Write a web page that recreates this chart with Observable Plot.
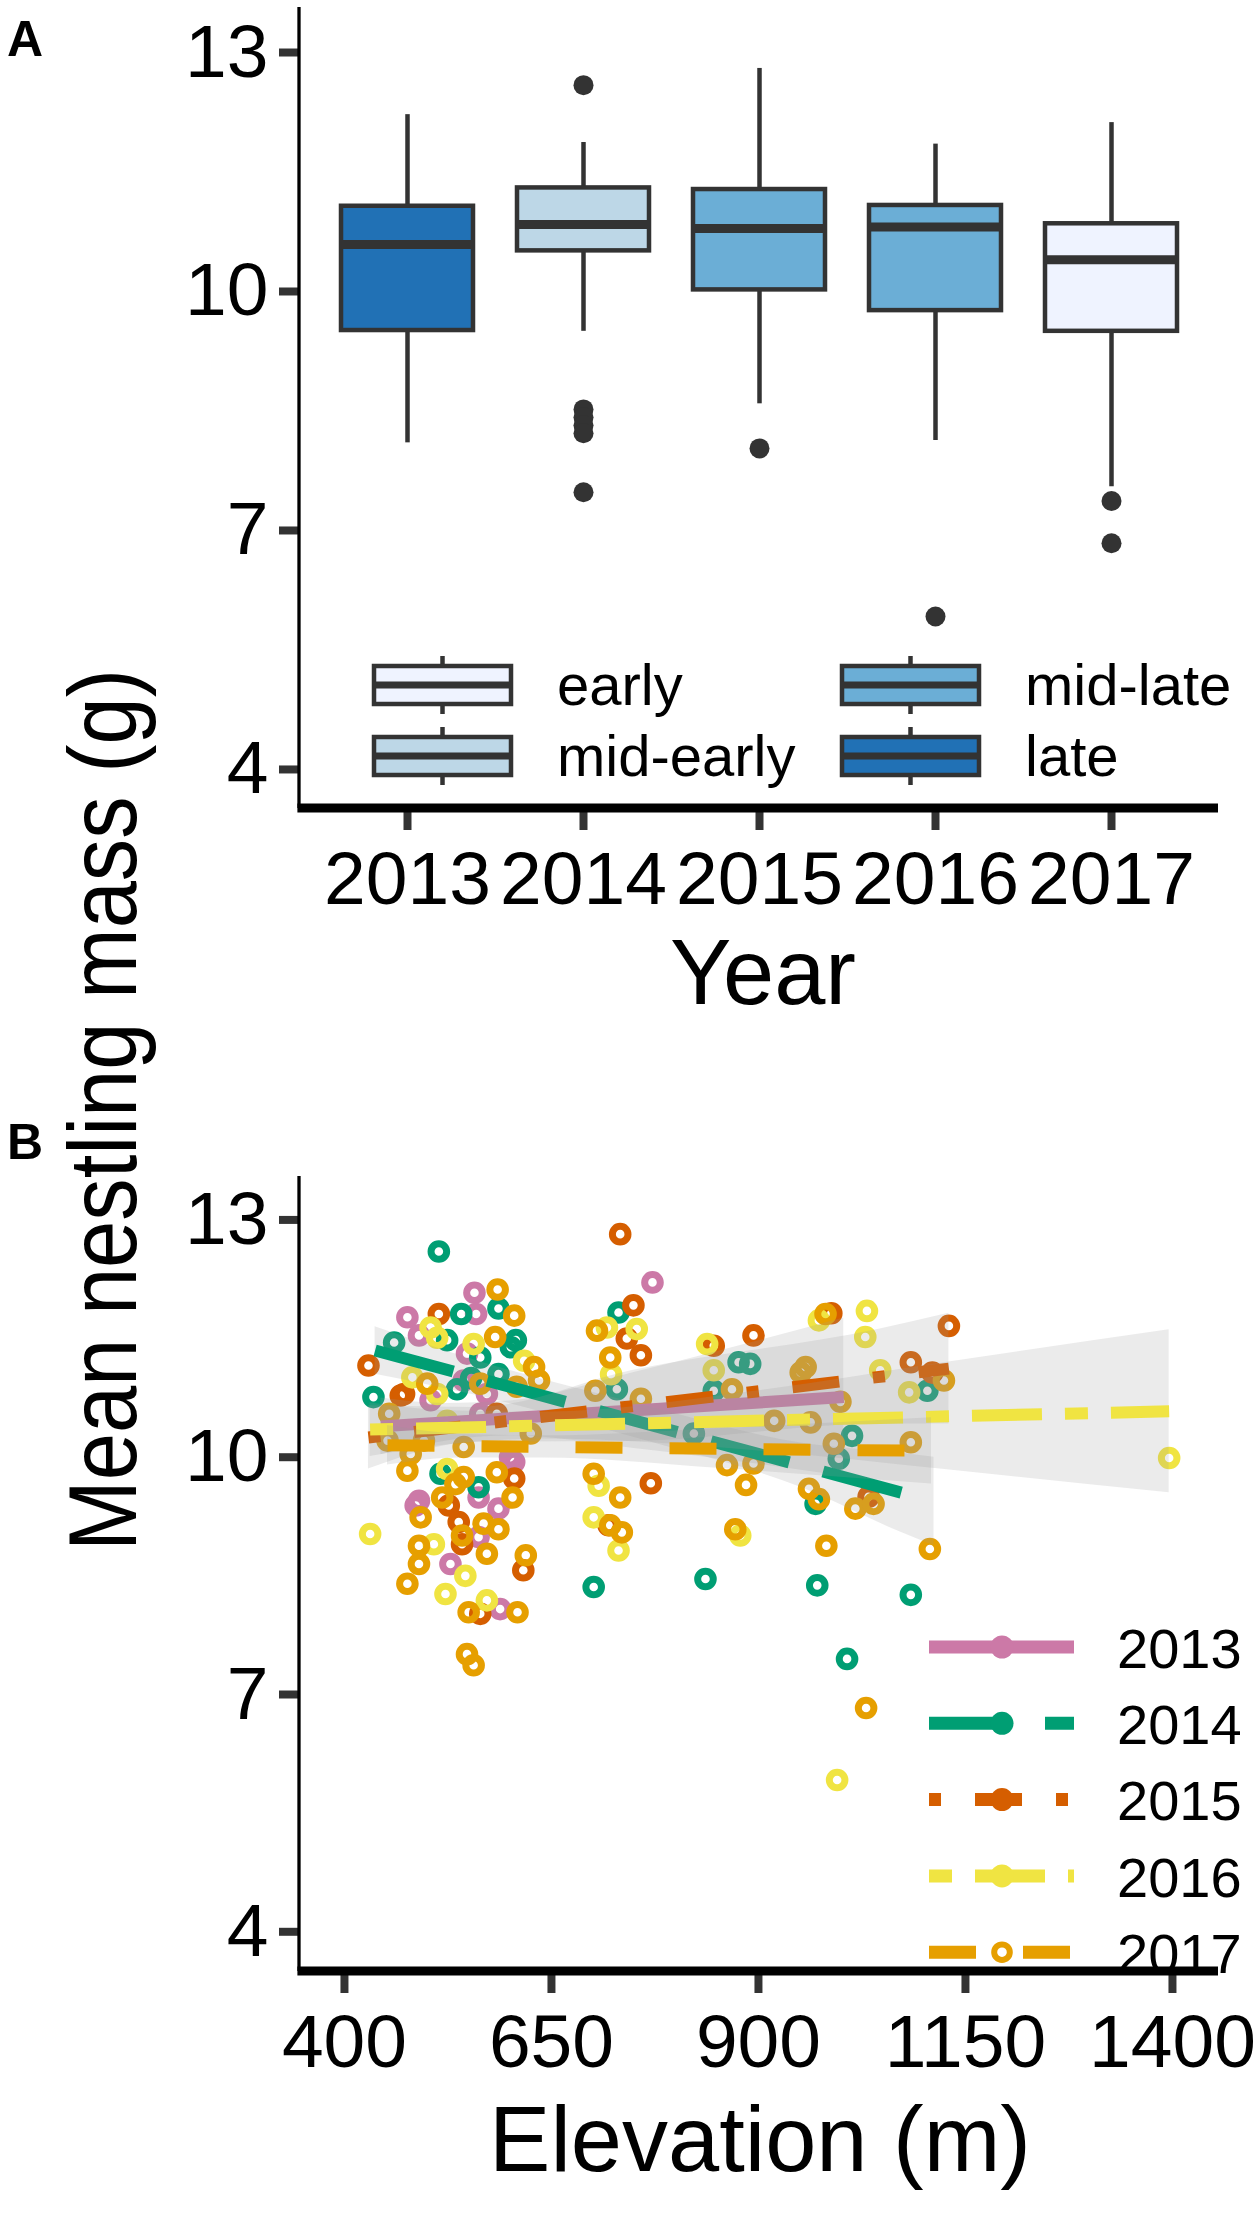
<!DOCTYPE html>
<html>
<head>
<meta charset="utf-8">
<script src="https://cdn.jsdelivr.net/npm/d3@7"></script>
<script src="https://cdn.jsdelivr.net/npm/@observablehq/plot@0.6"></script>
<style>
  html, body { margin: 0; padding: 0; background: #fff; overflow: hidden; }
  #fig { position: relative; width: 1259px; height: 2224px; }
  #fig > svg { display: block; }
</style>
</head>
<body>
<div id="fig"></div>
<script>
// ---------------- Panel A data (box plots by year) ----------------
const boxYears = ["2013", "2014", "2015", "2016", "2017"];
const boxPeriods = ["late", "mid-early", "mid-late", "mid-late", "early"];
const boxLowerWhisker = [8.10, 9.50, 8.59, 8.13, 7.55];
const boxQ1 = [9.51, 10.51, 10.02, 9.76, 9.50];
const boxMedian = [10.59, 10.84, 10.79, 10.81, 10.40];
const boxQ3 = [11.07, 11.30, 11.28, 11.08, 10.85];
const boxUpperWhisker = [12.22, 11.87, 12.80, 11.85, 12.12];
const outlierYears = ["2014", "2014", "2014", "2014", "2014", "2014", "2015", "2016", "2017", "2017"];
const outlierMasses = [12.59, 8.52, 8.42, 8.32, 8.22, 7.48, 8.03, 5.92, 7.37, 6.84];
const periodNames = ["early", "mid-early", "mid-late", "late"];
const massTicks = [4, 7, 10, 13];

// ---------------- Panel B data (mass vs elevation) ----------------
const seriesYears = ["2013", "2014", "2015", "2016", "2017"];
const elevTicks = [400, 650, 900, 1150, 1400];

const elev2013 = [557, 476, 559, 490, 548, 772, 605, 562, 490, 486, 586, 562, 528, 588, 504, 544, 572, 564, 600];
const mass2013 = [12.08, 11.77, 11.81, 11.54, 11.31, 12.21, 9.94, 9.49, 9.45, 9.39, 9.35, 8.99, 8.65, 8.08, 10.72, 10.97, 10.80, 10.55, 10.00];

const elev2014 = [514, 541, 586, 524, 607, 601, 564, 460, 435, 536, 586, 516, 562, 731, 729, 876, 890, 846, 822, 1013, 997, 1104, 836, 971, 701, 969, 1007, 1084, 553];
const mass2014 = [12.60, 11.81, 11.88, 11.48, 11.48, 11.39, 11.26, 11.45, 10.76, 10.86, 11.05, 9.79, 9.62, 11.83, 10.86, 11.20, 11.18, 10.84, 10.30, 10.27, 9.98, 10.84, 8.46, 8.38, 8.36, 9.41, 7.45, 8.26, 11.00];

const elev2015 = [733, 514, 429, 468, 741, 749, 758, 846, 894, 605, 526, 538, 542, 616, 564, 719, 770, 1033, 1130, 1084, 1110, 988, 472, 584];
const mass2015 = [12.82, 11.81, 11.16, 10.78, 11.50, 11.92, 11.29, 11.41, 11.54, 9.73, 9.39, 9.18, 8.90, 8.57, 8.02, 9.14, 9.67, 9.50, 11.66, 11.20, 11.07, 11.82, 10.80, 10.55];

const elev2016 = [504, 556, 617, 717, 722, 753, 838, 846, 973, 1031, 1029, 1047, 1082, 524, 431, 508, 546, 522, 572, 707, 701, 731, 878, 1396, 995, 482, 512, 524, 512];
const mass2016 = [11.64, 11.43, 11.22, 11.64, 11.05, 11.62, 11.43, 11.10, 11.73, 11.85, 11.52, 11.10, 10.82, 9.85, 9.03, 8.90, 8.50, 8.27, 8.19, 9.64, 9.24, 8.82, 9.01, 9.99, 5.92, 11.01, 10.80, 10.46, 11.51];

const elev2017 = [585, 605, 582, 454, 635, 476, 705, 721, 703, 701, 544, 584, 603, 492, 518, 534, 568, 586, 542, 490, 572, 490, 619, 476, 550, 609, 548, 556, 733, 721, 735, 868, 981, 957, 951, 758, 999, 919, 963, 991, 862, 894, 885, 872, 982, 961, 973, 1017, 1039, 1030, 1124, 1084, 1107, 500, 564, 608, 480, 625, 544, 629, 452, 496];
const mass2017 = [12.12, 11.79, 11.52, 10.55, 10.97, 9.83, 11.60, 11.26, 10.84, 9.79, 9.75, 9.81, 9.49, 9.24, 9.49, 9.66, 9.16, 9.09, 9.01, 8.88, 8.78, 8.65, 8.76, 8.40, 8.04, 8.04, 7.51, 7.37, 9.49, 9.14, 9.05, 10.86, 11.81, 11.14, 11.07, 10.74, 10.70, 10.46, 10.44, 10.17, 9.90, 9.92, 9.65, 9.09, 8.88, 9.60, 9.47, 9.35, 9.41, 6.83, 10.97, 10.19, 8.84, 10.93, 10.93, 10.89, 10.04, 10.30, 10.13, 11.14, 10.21, 10.21];

// fitted linear trends (end points)
const fitStartElev = [444, 437, 429, 431, 452];
const fitEndElev = [1003, 1112, 1130, 1396, 1109];
const fitStartMass = [10.39, 11.35, 10.25, 10.35, 10.15];
const fitEndMass = [10.76, 9.44, 11.12, 10.58, 10.08];

// confidence bands
const band2013Elev = [444, 520, 600, 750, 1003];
const band2013Low = [10.03, 10.20, 10.27, 10.11, 9.76];
const band2013High = [10.75, 10.68, 10.71, 11.07, 11.76];
const band2014Elev = [437, 560, 760, 951, 1072, 1112];
const band2014Low = [11.05, 10.78, 10.22, 9.62, 9.05, 8.88];
const band2014High = [11.65, 11.22, 10.66, 10.18, 10.05, 10.00];
const band2015Elev = [429, 560, 749, 1047, 1130];
const band2015Low = [9.85, 10.19, 10.20, 10.42, 10.42];
const band2015High = [10.65, 10.63, 11.10, 11.62, 11.82];
const band2016Elev = [431, 520, 640, 900, 1128, 1396];
const band2016Low = [10.01, 10.15, 10.23, 10.08, 9.84, 9.55];
const band2016High = [10.69, 10.59, 10.57, 10.84, 11.20, 11.61];
const band2017Elev = [452, 540, 640, 850, 1109];
const band2017Low = [9.90, 9.99, 9.99, 9.86, 9.66];
const band2017High = [10.40, 10.29, 10.27, 10.36, 10.50];

// ---------------- build tables ----------------
const boxRows = boxYears.map((year, i) => ({
  year, period: boxPeriods[i], wlo: boxLowerWhisker[i], q1: boxQ1[i],
  med: boxMedian[i], q3: boxQ3[i], whi: boxUpperWhisker[i]
}));
const outlierRows = outlierYears.map((year, i) => ({year, mass: outlierMasses[i]}));

const pointSets = {
  "2013": [elev2013, mass2013], "2014": [elev2014, mass2014], "2015": [elev2015, mass2015],
  "2016": [elev2016, mass2016], "2017": [elev2017, mass2017]
};
const pointRows = seriesYears.flatMap(year => {
  const [e, m] = pointSets[year];
  const n = Math.min(e.length, m.length);
  return d3.range(n).map(i => ({year, elev: e[i], mass: m[i]}));
});
const fitRows = seriesYears.map((year, i) => ({
  year, e0: fitStartElev[i], e1: fitEndElev[i], m0: fitStartMass[i], m1: fitEndMass[i]
}));
const bandSets = {
  "2013": [band2013Elev, band2013Low, band2013High],
  "2014": [band2014Elev, band2014Low, band2014High],
  "2015": [band2015Elev, band2015Low, band2015High],
  "2016": [band2016Elev, band2016Low, band2016High],
  "2017": [band2017Elev, band2017Low, band2017High]
};
const bandRows = seriesYears.flatMap(year => {
  const [e, lo, hi] = bandSets[year];
  return e.map((v, i) => ({year, elev: v, lo: lo[i], hi: hi[i]}));
});

// ---------------- styles ----------------
const FONT = "'Liberation Sans', Arial, Helvetica, sans-serif";
const periodColors = ["#EFF3FF", "#BDD7E7", "#6BAED6", "#2171B5"];
const yearColors = ["#CC79A7", "#009E73", "#D55E00", "#F0E442", "#E69F00"];
const yearDash = {"2013": undefined, "2014": "81,35", "2015": "12,34,47,34", "2016": "23,23,70,23", "2017": "47,47"};
const W = 1259, HA = 1085, HB = 1139, ML = 299, MR = 41;
const A_TOP = 7, A_BOT = 808;
const B_TOP = 91, B_BOT = 886;
const INK = "#333333";
const TICK_FONT = 75;

function axisLines(top, bottom) {
  return () => {
    const g = d3.create("svg:g");
    g.append("line").attr("x1", ML).attr("x2", ML).attr("y1", top).attr("y2", bottom)
      .attr("stroke", "black").attr("stroke-width", 3.3);
    g.append("line").attr("x1", ML - 1.6).attr("x2", W - MR).attr("y1", bottom).attr("y2", bottom)
      .attr("stroke", "black").attr("stroke-width", 9);
    return g.node();
  };
}

function legendA() {
  const g = d3.create("svg:g").attr("font-family", FONT).attr("text-anchor", "start");
  const colX = [374, 842], rowY = [685, 756], labelX = [557, 1025];
  const w = 137, h = 38;
  periodNames.forEach((p, i) => {
    const c = Math.floor(i / 2), r = i % 2;
    const x0 = colX[c], cy = rowY[r];
    g.append("line").attr("x1", x0 + w / 2).attr("x2", x0 + w / 2).attr("y1", cy - 29).attr("y2", cy + 29)
      .attr("stroke", INK).attr("stroke-width", 4.5);
    g.append("rect").attr("x", x0).attr("y", cy - h / 2).attr("width", w).attr("height", h)
      .attr("fill", periodColors[i]).attr("stroke", INK).attr("stroke-width", 4.5);
    g.append("line").attr("x1", x0).attr("x2", x0 + w).attr("y1", cy).attr("y2", cy)
      .attr("stroke", INK).attr("stroke-width", 7);
    g.append("text").attr("x", labelX[c]).attr("y", cy).attr("dy", "0.345em")
      .attr("text-anchor", "start").attr("font-size", 58).attr("fill", "black").text(p);
  });
  return g.node();
}

function legendB() {
  const g = d3.create("svg:g").attr("font-family", FONT).attr("text-anchor", "start");
  const x0 = 929, x1 = 1074, xm = 1002;
  seriesYears.forEach((year, i) => {
    const cy = 562 + 76.3 * i;
    const ln = g.append("line").attr("x1", x0).attr("x2", x1).attr("y1", cy).attr("y2", cy)
      .attr("stroke", yearColors[i]).attr("stroke-width", 13).attr("stroke-linecap", "butt");
    if (yearDash[year]) ln.attr("stroke-dasharray", yearDash[year]);
    if (year === "2017") {
      g.append("circle").attr("cx", xm).attr("cy", cy).attr("r", 7.8)
        .attr("fill", "white").attr("stroke", yearColors[i]).attr("stroke-width", 6);
    } else {
      g.append("circle").attr("cx", xm).attr("cy", cy).attr("r", 11.5).attr("fill", yearColors[i]);
    }
    g.append("text").attr("x", 1117).attr("y", cy).attr("dy", "0.37em")
      .attr("text-anchor", "start").attr("font-size", 56).attr("fill", "black").text(year);
  });
  return g.node();
}

const baseStyle = {fontFamily: FONT, background: "white", overflow: "visible", color: "black"};
const plainFormat = d => String(d);

// ---------------- Panel A ----------------
const plotA = Plot.plot({
  width: W, height: HA,
  marginLeft: ML, marginRight: MR, marginTop: A_TOP, marginBottom: HA - A_BOT,
  style: baseStyle,
  x: {type: "band", domain: boxYears, paddingInner: 0.25, paddingOuter: 0.225, axis: null},
  y: {domain: [3.51, 13.565], axis: null},
  color: {domain: periodNames, range: periodColors},
  marks: [
    Plot.ruleX(boxRows, {x: "year", y1: "wlo", y2: "q1", stroke: INK, strokeWidth: 4.5}),
    Plot.ruleX(boxRows, {x: "year", y1: "q3", y2: "whi", stroke: INK, strokeWidth: 4.5}),
    Plot.barY(boxRows, {x: "year", y1: "q1", y2: "q3", fill: "period", stroke: INK, strokeWidth: 4.5}),
    Plot.tickY(boxRows, {x: "year", y: "med", stroke: INK, strokeWidth: 9}),
    Plot.dot(outlierRows, {x: "year", y: "mass", r: 10, fill: INK, stroke: null}),
    Plot.axisY({ticks: massTicks, tickFormat: plainFormat, tickSize: 20, tickPadding: 11, fontSize: TICK_FONT, stroke: INK, strokeWidth: 8, fill: "black", label: null}),
    Plot.axisX({tickSize: 22, tickPadding: 20, fontSize: TICK_FONT, stroke: INK, strokeWidth: 8, fill: "black", label: null}),
    axisLines(A_TOP, A_BOT),
    legendA
  ]
});

// ---------------- Panel B ----------------
const trendMarks = seriesYears.flatMap((year, i) => [
  Plot.areaY(bandRows.filter(d => d.year === year), {
    x: "elev", y1: "lo", y2: "hi", fill: "#999999", fillOpacity: 0.2, curve: "monotone-x"
  }),
  Plot.link(fitRows.filter(d => d.year === year), {
    x1: "e0", y1: "m0", x2: "e1", y2: "m1", stroke: yearColors[i], strokeWidth: 12,
    strokeLinecap: "butt", strokeDasharray: yearDash[year]
  })
]);

const plotB = Plot.plot({
  width: W, height: HB,
  marginLeft: ML, marginRight: MR, marginTop: B_TOP, marginBottom: HB - B_BOT,
  style: baseStyle,
  x: {domain: [345.7, 1455.6], axis: null},
  y: {domain: [3.498, 13.549], axis: null},
  color: {type: "ordinal", domain: seriesYears, range: yearColors},
  marks: [
    Plot.dot(pointRows, {x: "elev", y: "mass", stroke: "year", r: 7.8, strokeWidth: 7, fill: "none"}),
    ...trendMarks,
    Plot.axisY({ticks: massTicks, tickFormat: plainFormat, tickSize: 20, tickPadding: 11, fontSize: TICK_FONT, stroke: INK, strokeWidth: 8, fill: "black", label: null}),
    Plot.axisX({ticks: elevTicks, tickFormat: plainFormat, tickSize: 22, tickPadding: 20, fontSize: TICK_FONT, stroke: INK, strokeWidth: 8, fill: "black", label: null}),
    axisLines(B_TOP, B_BOT),
    legendB
  ]
});

const fig = document.getElementById("fig");
fig.appendChild(plotA);
fig.appendChild(plotB);

// ---------------- titles / panel letters ----------------
const overlay = d3.create("svg")
  .attr("width", W).attr("height", 2224)
  .style("position", "absolute").style("left", "0px").style("top", "0px")
  .style("pointer-events", "none")
  .attr("font-family", FONT);
overlay.append("text").attr("x", 7).attr("y", 56).attr("font-weight", "bold").attr("font-size", 50).text("A");
overlay.append("text").attr("x", 7).attr("y", 1159).attr("font-weight", "bold").attr("font-size", 50).text("B");
overlay.append("text").attr("transform", "translate(136,1110) rotate(-90) scale(0.884,1)")
  .attr("text-anchor", "middle").attr("font-size", 96).text("Mean nestling mass (g)");
overlay.append("text").attr("x", 763).attr("y", 1004).attr("text-anchor", "middle").attr("font-size", 92).text("Year");
overlay.append("text").attr("x", 760).attr("y", 2171).attr("text-anchor", "middle").attr("font-size", 92).text("Elevation (m)");
fig.appendChild(overlay.node());
</script>
</body>
</html>
